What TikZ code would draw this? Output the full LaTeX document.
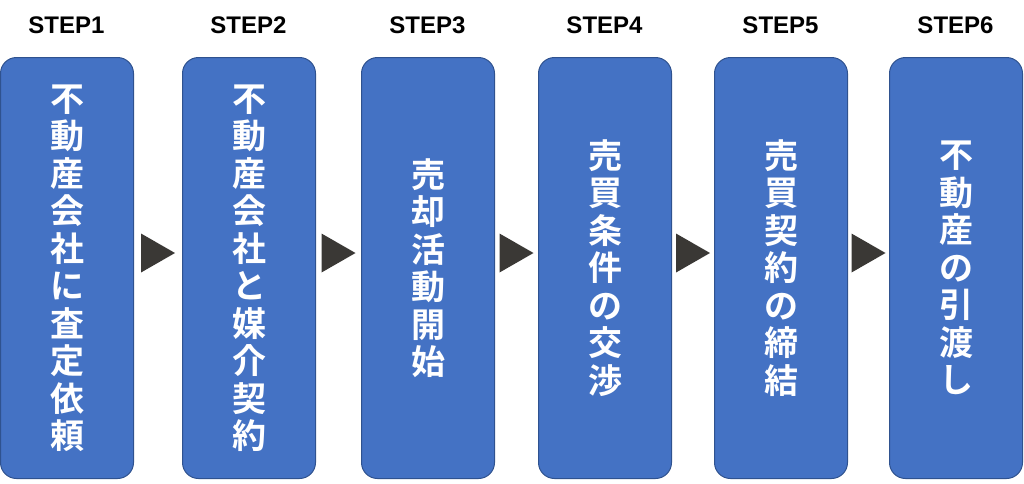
\documentclass[tikz,border=0pt]{standalone}
\usepackage{fontspec}
\usetikzlibrary{calc}
\newfontfamily\cjk{Noto Sans CJK JP Bold}
\setmainfont{Liberation Sans}
\definecolor{boxfill}{HTML}{4472C4}
\definecolor{boxline}{HTML}{2F528F}
\definecolor{arr}{HTML}{3A3835}
\begin{document}
\begin{tikzpicture}[x=1pt,y=-1pt,
  stepbox/.style={draw=boxline,line width=1pt,fill=boxfill,rounded corners=16pt,minimum width=133pt,minimum height=421pt,anchor=north west,inner sep=0pt},
  boxtext/.style={text=white,font=\cjk\fontsize{34}{37.5}\selectfont,align=center},
  steplabel/.style={font=\bfseries\fontsize{24}{26}\selectfont},
  tri/.style={fill=arr}]
\useasboundingbox (0,0) rectangle (1024,483);
\foreach \i/\x/\t in {1/0/{不\\動\\産\\会\\社\\に\\査\\定\\依\\頼},2/182/{不\\動\\産\\会\\社\\と\\媒\\介\\契\\約},3/361/{売\\却\\活\\動\\開\\始},4/538/{売\\買\\条\\件\\の\\交\\渉},5/714/{売\\買\\契\\約\\の\\締\\結},6/889/{不\\動\\産\\の\\引\\渡\\し}}{
  \node[stepbox] (b\i) at (\x,57) {};
  \node[boxtext] (t\i) at (b\i.center) {\t};
  \node[steplabel] (s\i) at (\x+66.5,25) {STEP\i};
}
\foreach \a/\b in {1/2,2/3,3/4,4/5,5/6}{
  \coordinate (m\a) at ($(b\a.east)!0.5!(b\b.west)+(0,-15)$);
  \fill[tri] ($(m\a)+(-17,-19.5)$) -- ($(m\a)+(17,0)$) -- ($(m\a)+(-17,19.5)$) -- cycle;
}
\end{tikzpicture}
\end{document}
